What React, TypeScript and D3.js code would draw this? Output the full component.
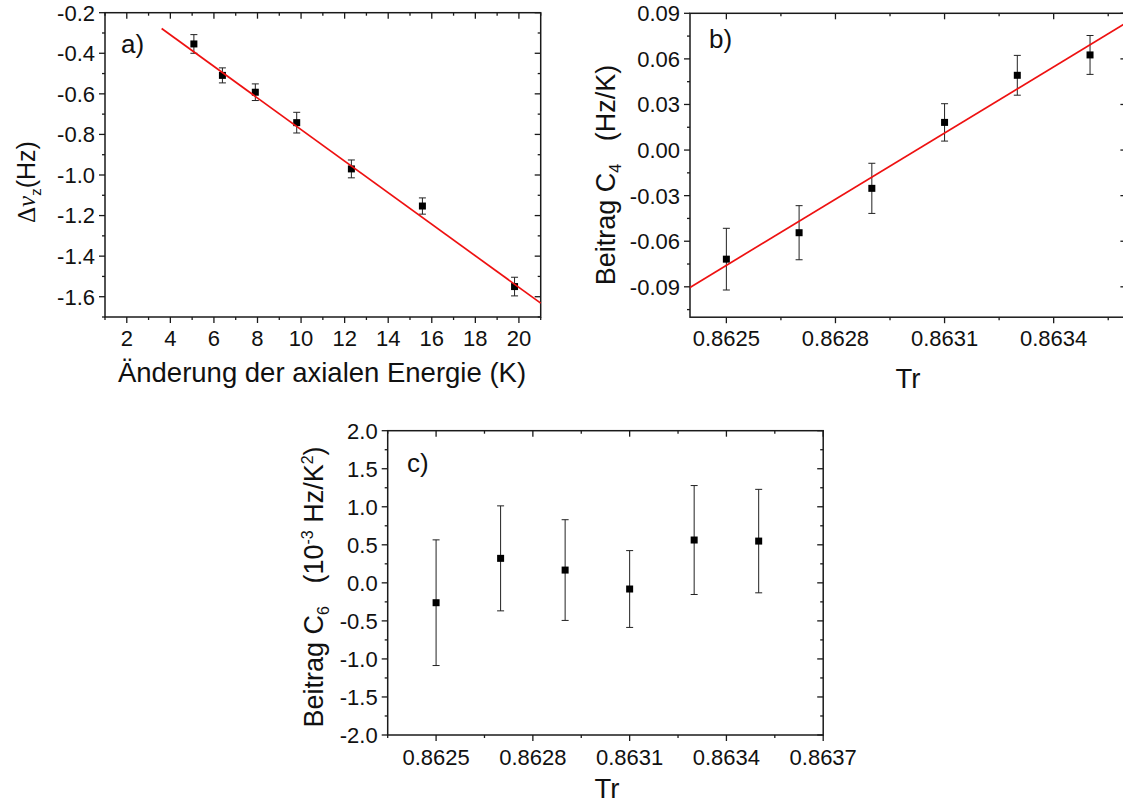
import React from 'react';
import * as d3 from 'd3';

const FONT = "'Liberation Sans', Arial, Helvetica, sans-serif";
const SERIF = "'Liberation Serif', 'DejaVu Serif', serif";

// ---------- Panel a ----------
const aEnergy = [5.08, 6.39, 7.9, 9.8, 12.31, 15.57, 19.8];
const aShift = [-0.354, -0.509, -0.592, -0.742, -0.97, -1.153, -1.55];
const aShiftErr = [0.046, 0.037, 0.041, 0.051, 0.044, 0.04, 0.046];
const aFitSlope = -0.0778;
const aFitIntercept = 0.002;
const aFitRange = [3.6, 21];
const aXTicks = [2, 4, 6, 8, 10, 12, 14, 16, 18, 20];
const aXMinor = [1, 3, 5, 7, 9, 11, 13, 15, 17, 19, 21];
const aYTicks = [-0.2, -0.4, -0.6, -0.8, -1.0, -1.2, -1.4, -1.6];
const aYMinor = [-0.3, -0.5, -0.7, -0.9, -1.1, -1.3, -1.5, -1.7];

// ---------- Panel b ----------
const bTr = [0.8625, 0.8627, 0.8629, 0.8631, 0.8633, 0.8635];
const bC4 = [-0.0718, -0.0544, -0.0252, 0.0182, 0.0492, 0.0626];
const bC4Err = [0.0203, 0.0178, 0.0165, 0.0123, 0.0131, 0.0128];
const bFitSlope = 145.2;
const bFitIntercept = -125.31088;
const bFitRange = [0.8624, 0.8636];
const bXTicks = [0.8625, 0.8628, 0.8631, 0.8634];
const bXMinor = [0.86265, 0.86295, 0.86325, 0.86355];
const bYTicks = [0.09, 0.06, 0.03, 0.0, -0.03, -0.06, -0.09];
const bYMinor = [0.075, 0.045, 0.015, -0.015, -0.045, -0.075, -0.105];

// ---------- Panel c ----------
const cTr = [0.8625, 0.8627, 0.8629, 0.8631, 0.8633, 0.8635];
const cC6 = [-0.261, 0.322, 0.168, -0.081, 0.563, 0.549];
const cC6Err = [0.826, 0.69, 0.662, 0.505, 0.716, 0.68];
const cXTicks = [0.8625, 0.8628, 0.8631, 0.8634, 0.8637];
const cXMinor = [0.86235, 0.86265, 0.86295, 0.86325, 0.86355];
const cYTicks = [2.0, 1.5, 1.0, 0.5, 0.0, -0.5, -1.0, -1.5, -2.0];
const cYMinor = [1.75, 1.25, 0.75, 0.25, -0.25, -0.75, -1.25, -1.75];

const loc = d3.formatLocale({ decimal: '.', thousands: ',', grouping: [3], currency: ['', ''], minus: '-' });

type Cfg = {
  xDomain: number[]; xRange: number[]; yDomain: number[]; yRange: number[];
  xTicks: number[]; xMinor: number[]; yTicks: number[]; yMinor: number[];
  xFmt: (v: number) => string; yFmt: (v: number) => string;
  xs: number[]; ys: number[]; errs: number[];
  fit?: { slope: number; intercept: number; range: number[] };
  xTickBaseline: number;
  tag: string; tagX: number; tagY: number;
};

const MAJ = 6;
const MIN = 3;
const FRAME = '#1a1a1a';
const TICK_FS = 22;

function Panel({ c }: { c: Cfg }) {
  const x = d3.scaleLinear().domain(c.xDomain).range(c.xRange);
  const y = d3.scaleLinear().domain(c.yDomain).range(c.yRange);
  const [x0, x1] = c.xRange;
  const [yb, yt] = c.yRange;
  const line = d3.line<number>().x((d) => x(d)).y((d) => y(c.fit!.slope * d + c.fit!.intercept));
  return (
    <g>
      {c.xTicks.map((t) => (
        <g key={'xt' + t}>
          <line x1={x(t)} x2={x(t)} y1={yb} y2={yb + MAJ} stroke={FRAME} strokeWidth={1.3} />
          <line x1={x(t)} x2={x(t)} y1={yt} y2={yt + MAJ} stroke={FRAME} strokeWidth={1.3} />
          <text x={x(t)} y={c.xTickBaseline} textAnchor="middle" fontSize={TICK_FS} fontFamily={FONT} fill="#111">{c.xFmt(t)}</text>
        </g>
      ))}
      {c.xMinor.map((t) => (
        <g key={'xm' + t}>
          <line x1={x(t)} x2={x(t)} y1={yb} y2={yb + MIN} stroke={FRAME} strokeWidth={1.3} />
          <line x1={x(t)} x2={x(t)} y1={yt} y2={yt + MIN} stroke={FRAME} strokeWidth={1.3} />
        </g>
      ))}
      {c.yTicks.map((t) => (
        <g key={'yt' + t}>
          <line x1={x0} x2={x0 - MAJ} y1={y(t)} y2={y(t)} stroke={FRAME} strokeWidth={1.3} />
          <line x1={x1} x2={x1 - MAJ} y1={y(t)} y2={y(t)} stroke={FRAME} strokeWidth={1.3} />
          <text x={x0 - 10} y={y(t)} dy="0.36em" textAnchor="end" fontSize={TICK_FS} fontFamily={FONT} fill="#111">{c.yFmt(t)}</text>
        </g>
      ))}
      {c.yMinor.map((t) => (
        <g key={'ym' + t}>
          <line x1={x0} x2={x0 - MIN} y1={y(t)} y2={y(t)} stroke={FRAME} strokeWidth={1.3} />
          <line x1={x1} x2={x1 - MIN} y1={y(t)} y2={y(t)} stroke={FRAME} strokeWidth={1.3} />
        </g>
      ))}
      <rect x={x0} y={yt} width={x1 - x0} height={yb - yt} fill="none" stroke={FRAME} strokeWidth={1.5} />
      {c.xs.map((xv, i) => {
        const px = x(xv);
        const top = y(c.ys[i] + c.errs[i]);
        const bot = y(c.ys[i] - c.errs[i]);
        return (
          <g key={'e' + i} stroke="#222" strokeWidth={1}>
            <line x1={px} x2={px} y1={top} y2={bot} />
            <line x1={px - 3.5} x2={px + 3.5} y1={top} y2={top} />
            <line x1={px - 3.5} x2={px + 3.5} y1={bot} y2={bot} />
          </g>
        );
      })}
      {c.xs.map((xv, i) => (
        <rect key={'p' + i} x={x(xv) - 3.5} y={y(c.ys[i]) - 3.5} width={7} height={7} fill="#000" />
      ))}
      {c.fit && (
        <path d={line(c.fit.range) || ''} fill="none" stroke="#ee1111" strokeWidth={1.7} />
      )}
      <text x={c.tagX} y={c.tagY} fontSize={26} fontFamily={FONT} fill="#111">{c.tag}</text>
    </g>
  );
}

export default function App() {
  const f1 = loc.format('.1f');
  const f2 = loc.format('.2f');
  const f4 = loc.format('.4f');
  const a: Cfg = {
    xDomain: [1, 21], xRange: [105, 540.7], yDomain: [-1.7, -0.2], yRange: [317, 12.7],
    xTicks: aXTicks, xMinor: aXMinor, yTicks: aYTicks, yMinor: aYMinor,
    xFmt: (v) => String(v), yFmt: f1,
    xs: aEnergy, ys: aShift, errs: aShiftErr,
    fit: { slope: aFitSlope, intercept: aFitIntercept, range: aFitRange },
    xTickBaseline: 346, tag: 'a)', tagX: 121, tagY: 53,
  };
  const b: Cfg = {
    xDomain: [0.8624, 0.8636], xRange: [690, 1126.4], yDomain: [-0.11, 0.09], yRange: [317.2, 13.3],
    xTicks: bXTicks, xMinor: bXMinor, yTicks: bYTicks, yMinor: bYMinor,
    xFmt: f4, yFmt: f2,
    xs: bTr, ys: bC4, errs: bC4Err,
    fit: { slope: bFitSlope, intercept: bFitIntercept, range: bFitRange },
    xTickBaseline: 346, tag: 'b)', tagX: 709, tagY: 48,
  };
  const c: Cfg = {
    xDomain: [0.86235, 0.8637], xRange: [387.7, 823.2], yDomain: [-2, 2], yRange: [735, 430.7],
    xTicks: cXTicks, xMinor: cXMinor, yTicks: cYTicks, yMinor: cYMinor,
    xFmt: f4, yFmt: f1,
    xs: cTr, ys: cC6, errs: cC6Err,
    xTickBaseline: 764.5, tag: 'c)', tagX: 407, tagY: 472,
  };
  return (
    <svg width={1123} height={805} style={{ position: 'absolute', left: 0, top: 0, background: '#fff' }} fontFamily={FONT}>
      <rect x={0} y={0} width={1123} height={805} fill="#fff" />
      <Panel c={a} />
      <Panel c={b} />
      <Panel c={c} />
      <text x={322} y={382} textAnchor="middle" fontSize={27.5} fill="#111">Änderung der axialen Energie (K)</text>
      <text x={908} y={388} textAnchor="middle" fontSize={27.5} fill="#111">Tr</text>
      <text x={607} y={798} textAnchor="middle" fontSize={27.5} fill="#111">Tr</text>
      <text transform="translate(35,182) rotate(-90)" textAnchor="middle" fontSize={25} fill="#111">
        <tspan fontFamily={SERIF}>Δ</tspan>
        <tspan fontFamily={SERIF} fontStyle="italic">ν</tspan>
        <tspan fontSize={15} dy={6}>z</tspan>
        <tspan dy={-6}>(Hz)</tspan>
      </text>
      <text transform="translate(615,175) rotate(-90)" textAnchor="middle" fontSize={27} fill="#111">
        Beitrag C<tspan fontSize={16} dy={6}>4</tspan>
        <tspan dy={-6}>{'\u00a0\u00a0\u00a0(Hz/K)'}</tspan>
      </text>
      <text transform="translate(323,587) rotate(-90)" textAnchor="middle" fontSize={27} fill="#111">
        Beitrag C<tspan fontSize={16} dy={6}>6</tspan>
        <tspan dy={-6}>{'\u00a0\u00a0\u00a0(10'}</tspan>
        <tspan fontSize={16} dy={-10}>-3</tspan>
        <tspan dy={10}>{'\u00a0Hz/K'}</tspan>
        <tspan fontSize={16} dy={-10}>2</tspan>
        <tspan dy={10}>)</tspan>
      </text>
    </svg>
  );
}
